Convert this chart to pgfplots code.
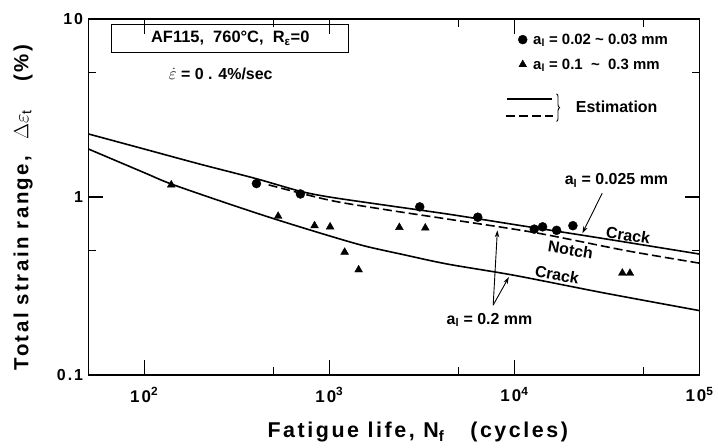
\documentclass[border=0pt]{standalone}
\usepackage{fontspec}
\setmainfont{Liberation Sans}
\newfontfamily\wide{Liberation Sans}[LetterSpace=12]
\usepackage{pgfplots}
\pgfplotsset{compat=1.18}
\usetikzlibrary{decorations.pathreplacing,arrows.meta}
\newcommand\fs[1]{\fontsize{#1}{#1}\selectfont\bfseries}
\newcommand\wfs[1]{\fontsize{#1}{#1}\selectfont\wide\bfseries}
\begin{document}
\begin{tikzpicture}[font=\bfseries]
\begin{axis}[
  name=ax,
  scale only axis, width=611bp, height=356bp,
  xmode=log, ymode=log,
  xmin=50, xmax=100000, ymin=0.1, ymax=10,
  xtick={100,1000,10000,100000},
  xticklabels={10\textsuperscript{2},10\textsuperscript{3},10\textsuperscript{4},10\textsuperscript{5}},
  ytick={0.1,1,10}, yticklabels={0.1,1,10},
  minor xtick={500,5000,50000}, minor ytick={0.5,5},
  tick align=inside, major tick length=15bp, minor tick length=8bp,
  tick style={line width=1.2bp, black},
  axis line style={line width=1.5bp},
  xticklabel style={font=\wfs{17}, yshift=-9bp},
  yticklabel style={font=\wfs{16}, xshift=-2bp},
  xlabel={Fatigue life,\ N\textsubscript{f}\hspace{26bp}(cycles)},
  xlabel style={font=\wfs{21.5}, at={(rel axis cs:0.539,0)}, anchor=center, yshift=-57bp},
  ylabel={Total strain range,\hspace{16bp}$\Delta\varepsilon_{\mathrm{t}}$\hspace{28bp}(\%)},
  ylabel style={font=\wfs{20.5}, at={(rel axis cs:-0.107,0.47)}, anchor=center},
  clip=false,
  legend style={draw=none, fill=none, at={(rel axis cs:0.703,0.965)}, anchor=north west,
    font=\fs{15}, row sep=9bp, inner sep=0pt},
  legend cell align=left,
]
% data
\addplot[only marks, mark=*, mark size=4.5bp, black] coordinates {
  (404,1.19) (698,1.04) (3080,0.88) (6340,0.77) (12800,0.66) (14200,0.68) (16900,0.65) (20700,0.69)};
\addlegendentry{\hspace{4bp}a\textsubscript{l} = 0.02 \textasciitilde{} 0.03 mm}
\addplot[only marks, mark=triangle*, mark size=4.5bp, black] coordinates {
  (140,1.17) (529,0.78) (832,0.69) (1010,0.68) (1210,0.49) (1440,0.39) (2390,0.675) (3300,0.67) (38300,0.374) (42100,0.373)};
\addlegendentry{\hspace{4bp}a\textsubscript{l} = 0.1\ \ \textasciitilde\ \ 0.3 mm}
% estimation curves
\addplot[forget plot, line width=1.6bp, smooth] coordinates {
  (50,2.26) (100,1.86) (200,1.53) (400,1.27) (690,1.08) (1000,1.0) (2000,0.90) (4430,0.80) (10000,0.70) (30000,0.585) (100000,0.478)};
\addplot[forget plot, line width=1.6bp, smooth, dash pattern=on 9bp off 4bp] coordinates {
  (470,1.17) (1000,0.96) (2000,0.85) (4420,0.75) (13000,0.63) (40000,0.50) (100000,0.425)};
\addplot[forget plot, line width=1.6bp, smooth] coordinates {
  (50,1.86) (100,1.37) (141,1.18) (300,0.90) (533,0.74) (1000,0.605) (1560,0.53) (2500,0.475) (4350,0.42) (10000,0.363) (30000,0.29) (100000,0.23)};
% annotations
\node[font=\fs{16}, rotate=-9] at (axis cs:41200,0.61) {Crack};
\node[font=\fs{16}, rotate=-9] at (axis cs:20100,0.505) {Notch};
\node[font=\fs{16}, rotate=-10] at (axis cs:17000,0.365) {Crack};
\node[font=\fs{16}] at (axis cs:35600,1.24) {a\textsubscript{l} = 0.025 mm};
\draw[-{Stealth[length=7bp,width=4.5bp]}, line width=0.9bp] (axis cs:29800,1.05) -- (axis cs:23300,0.626);
\node[font=\fs{16}] at (axis cs:7330,0.204) {a\textsubscript{l} = 0.2 mm};
\draw[-{Stealth[length=7bp,width=4.5bp]}, line width=0.9bp] (axis cs:7680,0.247) -- (axis cs:8090,0.65);
\draw[-{Stealth[length=7bp,width=4.5bp]}, line width=0.9bp] (axis cs:7680,0.247) -- (axis cs:9330,0.355);
% box
\node[draw, line width=1bp, font=\fs{16.5}, minimum width=237bp, minimum height=28bp]
  at (rel axis cs:0.232,0.945) {AF115,\ \ 760°C,\ \ R\textsubscript{ε}=0};
\node[font=\fs{16}] at (rel axis cs:0.2163,0.845) {$\dot{\varepsilon}$ = 0 . 4\%/sec};
% estimation key
\draw[line width=1.5bp] (rel axis cs:0.685,0.775) -- (rel axis cs:0.758,0.775);
\draw[line width=1.5bp, dash pattern=on 9bp off 4bp] (rel axis cs:0.684,0.727) -- (rel axis cs:0.760,0.727);
\draw[decorate, decoration={brace, amplitude=3bp}, line width=0.9bp] (rel axis cs:0.766,0.79) -- (rel axis cs:0.766,0.712);
\node[font=\fs{16}, anchor=west] at (rel axis cs:0.792,0.752) {Estimation};
\end{axis}
\path ([xshift=-88.5bp,yshift=-73bp]ax.south west) rectangle ([xshift=18.5bp,yshift=19bp]ax.north east);
\end{tikzpicture}
\end{document}
